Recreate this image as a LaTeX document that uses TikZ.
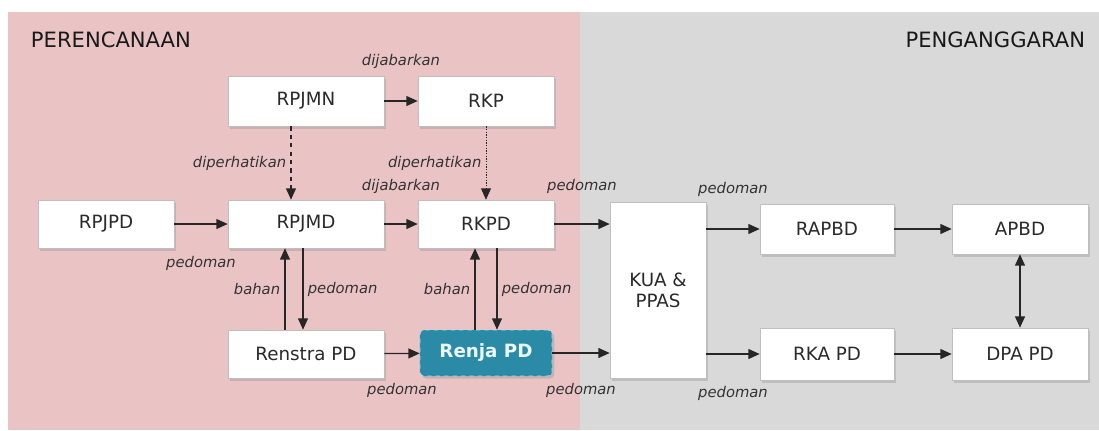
\documentclass[tikz,border=0pt]{standalone}
\usepackage{fontspec}
\setmainfont{DejaVu Sans}
\usepackage{tikz}
\usetikzlibrary{arrows.meta}
\usetikzlibrary{shadows}

\definecolor{planpink}{HTML}{EAC4C5}
\definecolor{budgetgray}{HTML}{D9D9D9}
\definecolor{renjateal}{HTML}{2B8BA6}
\definecolor{boxtext}{HTML}{2A2A2A}

\tikzset{
  docbox/.style={draw=gray!50, fill=white, text=boxtext, minimum height=1.25cm,
    font=\fontsize{13}{15}\selectfont,
    drop shadow={shadow xshift=1.6pt, shadow yshift=-1.8pt, opacity=0.3}},
  lbl/.style={font=\fontsize{10.5}{12}\selectfont\itshape, text=black!80, inner sep=1pt},
  flow/.style={-{Triangle[length=8pt,width=7pt]}, line width=0.9pt, black!85},
  twoway/.style={{Triangle[length=8pt,width=7pt]}-{Triangle[length=8pt,width=7pt]}, line width=0.9pt, black!85},
  header/.style={font=\fontsize{15}{17}\selectfont, text=black!90}
}

\begin{document}
\begin{tikzpicture}[x=0.025cm,y=-0.025cm]
    \useasboundingbox (0,0) rectangle (1099,430);
    \fill[planpink] (8,12) rectangle (580,430);
    \fill[budgetgray] (580,12) rectangle (1099,430);
    \node[header, anchor=west] (plantitle) at (26,40) {PERENCANAAN};
    \node[header, anchor=east] (budgettitle) at (1090,40) {PENGANGGARAN};

    \node[docbox, minimum width=3.9cm] (rpjmn) at (306,101) {RPJMN};
    \node[docbox, minimum width=3.4cm] (rkp) at (486,101) {RKP};
    \node[docbox, minimum width=3.4cm, minimum height=1.2cm] (rpjpd) at (106,224) {RPJPD};
    \node[docbox, minimum width=3.9cm, minimum height=1.2cm] (rpjmd) at (306,224) {RPJMD};
    \node[docbox, minimum width=3.4cm, minimum height=1.2cm] (rkpd) at (486,224) {RKPD};
    \node[docbox, minimum width=3.9cm, minimum height=1.2cm] (renstra) at (306,354) {Renstra PD};
    \node[draw=cyan!35, dashed, fill=renjateal, rounded corners=3pt, text=cyan!8,
      minimum width=3.3cm, minimum height=1.15cm, font=\fontsize{13}{15}\selectfont\bfseries,
      drop shadow={shadow xshift=1.6pt, shadow yshift=-1.8pt, opacity=0.3}] (renja) at (486,353) {Renja PD};
    \node[docbox, minimum width=2.4cm, minimum height=4.4cm, align=center] (kua) at (658,290) {KUA \&\\PPAS};
    \node[docbox, minimum width=3.35cm] (rapbd) at (827,229) {RAPBD};
    \node[docbox, minimum width=3.4cm] (apbd) at (1020,229) {APBD};
    \node[docbox, minimum width=3.35cm, minimum height=1.3cm] (rkapd) at (827,354) {RKA PD};
    \node[docbox, minimum width=3.4cm, minimum height=1.3cm] (dpapd) at (1020,354) {DPA PD};

    \draw[flow] (rpjmn) -- node[lbl, above=0.75cm] {dijabarkan} (rkp);
    \draw[flow, dashed] ([xshift=-0.375cm]rpjmn.south) -- node[lbl, left=2pt] {diperhatikan} ([xshift=-0.375cm]rpjmd.north);
    \draw[flow, densely dotted, line width=0.6pt] (rkp) -- node[lbl, left=2pt] {diperhatikan} (rkpd);

    \draw[flow] (rpjpd) -- node[lbl, below=0.75cm] {pedoman} (rpjmd);
    \draw[flow] (rpjmd) -- node[lbl, above=0.7cm] {dijabarkan} (rkpd);
    \draw[flow] (rkpd.east) -- node[lbl, above=0.7cm] {pedoman} (rkpd.east -| kua.west);
    \draw[flow] (kua.east |- rapbd.west) -- node[lbl, above=0.75cm] {pedoman} (rapbd.west);
    \draw[flow] (rapbd) -- (apbd);

    \draw[flow] ([xshift=-0.525cm]renstra.north) -- node[lbl, left=2pt] {bahan} ([xshift=-0.525cm]rpjmd.south);
    \draw[flow] ([xshift=-0.075cm]rpjmd.south) -- node[lbl, right=2pt] {pedoman} ([xshift=-0.075cm]renstra.north);
    \draw[flow] ([xshift=-0.275cm]renja.north) -- node[lbl, left=2pt] {bahan} ([xshift=-0.275cm]rkpd.south);
    \draw[flow] ([xshift=0.275cm]rkpd.south) -- node[lbl, right=2pt] {pedoman} ([xshift=0.275cm]renja.north);

    \draw[flow] (renstra) -- node[lbl, below=0.7cm] {pedoman} (renja);
    \draw[flow] (renja.east) -- node[lbl, below=0.7cm] {pedoman} (renja.east -| kua.west);
    \draw[flow] (kua.east |- rkapd.west) -- node[lbl, below=0.75cm] {pedoman} (rkapd.west);
    \draw[flow] (rkapd) -- (dpapd);
    \draw[twoway] (apbd) -- (dpapd);
\end{tikzpicture}
\end{document}
